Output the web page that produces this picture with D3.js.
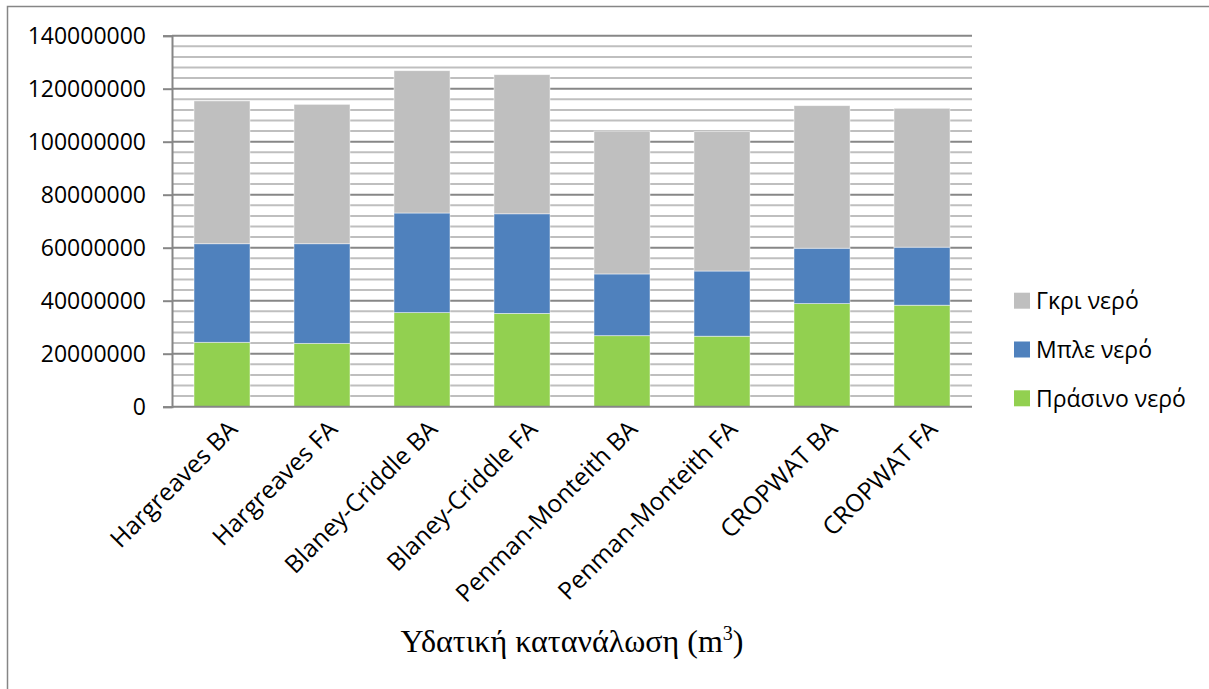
<!DOCTYPE html>
<html>
<head>
<meta charset="utf-8">
<script src="https://cdn.jsdelivr.net/npm/d3@7"></script>
<style>
  html, body { margin: 0; padding: 0; background: #fff; }
  svg { display: block; }
</style>
</head>
<body>
<svg id="chart" width="1209" height="689"></svg>
<script>
// Water footprint per method, in m3
const categories = [
  "Hargreaves BA", "Hargreaves FA", "Blaney-Criddle BA", "Blaney-Criddle FA",
  "Penman-Monteith BA", "Penman-Monteith FA", "CROPWAT BA", "CROPWAT FA"
];
const greenWater = [24300000, 23900000, 35500000, 35200000, 26800000, 26600000, 38900000, 38300000];
const blueWater  = [37200000, 37600000, 37600000, 37600000, 23300000, 24600000, 20900000, 21900000];
const greyWater  = [53900000, 52600000, 53700000, 52500000, 53900000, 52600000, 53800000, 52400000];
const seriesNames = ["Πράσινο νερό", "Μπλε νερό", "Γκρι νερό"];
const seriesColors = ["#92d050", "#4f81bd", "#bfbfbf"];
const yTicks = [0, 20000000, 40000000, 60000000, 80000000, 100000000, 120000000, 140000000];
const titleText = "Υδατική κατανάλωση (m";

const FONT = "'Open Sans', 'Noto Sans', sans-serif";
const svg = d3.select("#chart");
const W = 1209, H = 689;
const plot = { left: 172, right: 972, top: 35.7, bottom: 406.7 };

// outer chart frame (top and left edges are visible)
svg.append("path")
  .attr("d", `M7.5,${H} V6.5 H${W}`)
  .attr("fill", "none").attr("stroke", "#868686").attr("stroke-width", 1.5);

const x = d3.scaleBand().domain(categories).range([plot.left, plot.right]).paddingInner(0.44).paddingOuter(0.22);
const y = d3.scaleLinear().domain([0, 140000000]).range([plot.bottom, plot.top]);

// minor gridlines every 4,000,000
const minor = d3.range(0, 140000001, 4000000).filter(v => v % 20000000 !== 0);
svg.append("g").selectAll("line").data(minor).join("line")
  .attr("x1", plot.left).attr("x2", plot.right)
  .attr("y1", d => y(d)).attr("y2", d => y(d))
  .attr("stroke", "#bfbfbf").attr("stroke-width", 2);

// major gridlines
svg.append("g").selectAll("line").data(yTicks.filter(v => v > 0)).join("line")
  .attr("x1", plot.left).attr("x2", plot.right)
  .attr("y1", d => y(d)).attr("y2", d => y(d))
  .attr("stroke", "#878787").attr("stroke-width", 2);

// stacked bars
const rows = categories.map((c, i) => ({ cat: c, g: greenWater[i], b: blueWater[i], r: greyWater[i] }));
const stack = d3.stack().keys(["g", "b", "r"])(rows);
svg.append("g").selectAll("g").data(stack).join("g")
  .attr("fill", (d, i) => seriesColors[i])
  .selectAll("rect").data(d => d).join("rect")
  .attr("x", d => x(d.data.cat))
  .attr("width", x.bandwidth())
  .attr("y", d => y(d[1]))
  .attr("height", d => y(d[0]) - y(d[1]))
  .attr("stroke", "#ffffff").attr("stroke-width", 0.8).attr("stroke-opacity", 0.6);

// y axis
const yAxis = d3.axisLeft(y).tickValues(yTicks).tickFormat(d3.format("d")).tickSize(9).tickPadding(17);
const ya = svg.append("g").attr("transform", `translate(${plot.left},0)`).call(yAxis);
ya.select(".domain").attr("stroke", "#868686").attr("stroke-width", 2);
ya.selectAll(".tick line").attr("stroke", "#868686").attr("stroke-width", 2);
ya.selectAll(".tick text").attr("font-family", FONT).attr("font-size", 23).attr("fill", "#000");

// x axis baseline
svg.append("line")
  .attr("x1", plot.left).attr("x2", plot.right)
  .attr("y1", plot.bottom).attr("y2", plot.bottom)
  .attr("stroke", "#868686").attr("stroke-width", 2);

// rotated category labels
svg.append("g").selectAll("text").data(categories).join("text")
  .attr("transform", d => `translate(${x(d) + x.bandwidth() / 2 + 11},${plot.bottom + 18}) rotate(-45)`)
  .attr("text-anchor", "end")
  .attr("dy", "0.35em")
  .attr("font-family", FONT)
  .attr("font-size", 24.5)
  .attr("fill", "#000")
  .text(d => d);

// legend (listed top-down in reverse stack order)
const legendItems = seriesNames.map((n, i) => ({ name: n, color: seriesColors[i] })).reverse();
const lg = svg.append("g").selectAll("g").data(legendItems).join("g")
  .attr("transform", (d, i) => `translate(1014,${292.7 + i * 48.8})`);
lg.append("rect").attr("width", 16).attr("height", 16).attr("fill", d => d.color);
lg.append("text").attr("x", 22).attr("y", 8).attr("dy", "0.36em")
  .attr("font-family", FONT).attr("font-size", 23).attr("fill", "#000")
  .text(d => d.name);

// axis title
const t = svg.append("text")
  .attr("x", (plot.left + plot.right) / 2).attr("y", 651.7)
  .attr("text-anchor", "middle")
  .attr("font-family", "'Liberation Serif', 'Times New Roman', serif")
  .attr("font-size", 32).attr("fill", "#000");
t.append("tspan").text(titleText);
t.append("tspan").attr("font-size", 20).attr("dy", -12).text("3");
t.append("tspan").attr("dy", 12).text(")");
</script>
</body>
</html>
